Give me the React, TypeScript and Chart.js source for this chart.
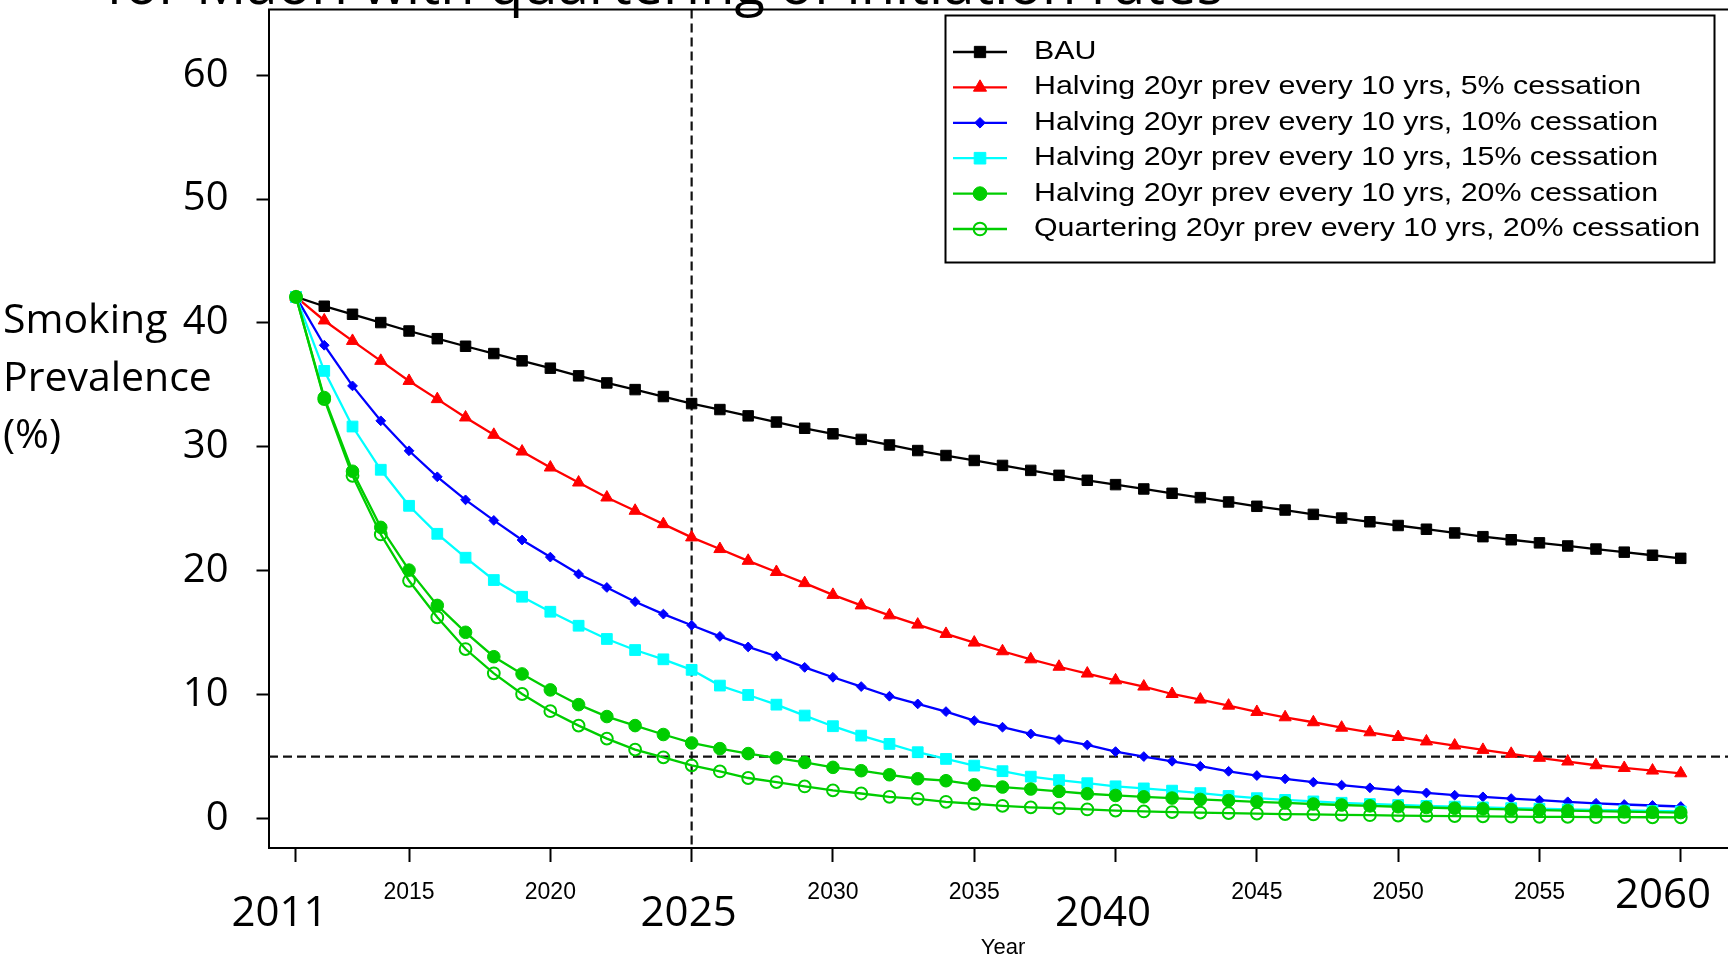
import { useEffect, useRef } from 'react';
import { Chart, registerables } from 'chart.js';

Chart.register(...registerables);

// ---------------- data ----------------
const years = [
  2011, 2012, 2013, 2014, 2015, 2016, 2017, 2018, 2019, 2020,
  2021, 2022, 2023, 2024, 2025, 2026, 2027, 2028, 2029, 2030,
  2031, 2032, 2033, 2034, 2035, 2036, 2037, 2038, 2039, 2040,
  2041, 2042, 2043, 2044, 2045, 2046, 2047, 2048, 2049, 2050,
  2051, 2052, 2053, 2054, 2055, 2056, 2057, 2058, 2059, 2060,
];

const bau = [
  42.1, 41.35, 40.7, 40.03, 39.35, 38.73, 38.12, 37.53, 36.94, 36.35,
  35.73, 35.16, 34.62, 34.06, 33.49, 33.01, 32.5, 32.0, 31.5, 31.05,
  30.6, 30.15, 29.7, 29.3, 28.9, 28.5, 28.1, 27.7, 27.3, 26.95,
  26.6, 26.25, 25.9, 25.55, 25.2, 24.9, 24.55, 24.25, 23.95, 23.65,
  23.35, 23.05, 22.75, 22.5, 22.25, 22.0, 21.75, 21.5, 21.25, 21.0,
];

const halving5 = [
  42.1, 40.2, 38.55, 36.94, 35.32, 33.85, 32.37, 30.97, 29.62, 28.33,
  27.12, 25.91, 24.84, 23.76, 22.69, 21.75, 20.8, 19.9, 19.0, 18.05,
  17.2, 16.4, 15.65, 14.9, 14.2, 13.5, 12.85, 12.25, 11.7, 11.15,
  10.65, 10.05, 9.6, 9.11, 8.6, 8.17, 7.77, 7.33, 6.96, 6.58,
  6.22, 5.89, 5.54, 5.22, 4.9, 4.6, 4.3, 4.08, 3.87, 3.65,
];

const halving10 = [
  42.1, 38.2, 34.92, 32.1, 29.68, 27.58, 25.72, 24.06, 22.48, 21.1,
  19.73, 18.65, 17.5, 16.5, 15.6, 14.7, 13.85, 13.1, 12.2, 11.4,
  10.65, 9.87, 9.25, 8.63, 7.9, 7.37, 6.83, 6.37, 5.94, 5.4,
  5.0, 4.62, 4.22, 3.81, 3.47, 3.2, 2.93, 2.69, 2.48, 2.26,
  2.07, 1.88, 1.75, 1.61, 1.48, 1.35, 1.23, 1.13, 1.05, 0.97,
];

const halving15 = [
  42.1, 36.13, 31.64, 28.15, 25.24, 22.98, 21.05, 19.25, 17.9, 16.69,
  15.56, 14.49, 13.6, 12.85, 12.0, 10.73, 9.97, 9.19, 8.31, 7.45,
  6.69, 6.02, 5.35, 4.81, 4.27, 3.82, 3.38, 3.1, 2.85, 2.6,
  2.43, 2.25, 2.05, 1.82, 1.64, 1.5, 1.38, 1.27, 1.17, 1.09,
  1.02, 0.96, 0.9, 0.84, 0.79, 0.74, 0.69, 0.65, 0.61, 0.57,
];

const halving20 = [
  42.1, 33.98, 28.03, 23.5, 20.05, 17.2, 15.03, 13.06, 11.67, 10.38,
  9.19, 8.23, 7.5, 6.78, 6.1, 5.64, 5.24, 4.9, 4.53, 4.13,
  3.86, 3.53, 3.21, 3.05, 2.73, 2.54, 2.38, 2.19, 2.0, 1.86,
  1.75, 1.65, 1.54, 1.45, 1.35, 1.26, 1.17, 1.09, 1.02, 0.95,
  0.89, 0.83, 0.78, 0.73, 0.68, 0.63, 0.59, 0.55, 0.51, 0.48,
];

const quartering20 = [
  42.1, 33.85, 27.66, 22.93, 19.19, 16.24, 13.68, 11.72, 10.05, 8.66,
  7.5, 6.45, 5.56, 4.94, 4.29, 3.8, 3.27, 2.94, 2.59, 2.27,
  2.02, 1.75, 1.59, 1.35, 1.19, 1.02, 0.9, 0.83, 0.73, 0.64,
  0.57, 0.52, 0.48, 0.44, 0.4, 0.36, 0.33, 0.3, 0.27, 0.24,
  0.22, 0.2, 0.18, 0.16, 0.14, 0.13, 0.12, 0.11, 0.1, 0.09,
];

const legendLabels = [
  'BAU',
  'Halving 20yr prev every 10 yrs, 5% cessation',
  'Halving 20yr prev every 10 yrs, 10% cessation',
  'Halving 20yr prev every 10 yrs, 15% cessation',
  'Halving 20yr prev every 10 yrs, 20% cessation',
  'Quartering 20yr prev every 10 yrs, 20% cessation',
];

const yTickValues = [0, 10, 20, 30, 40, 50, 60];
const xTickValues = [2011, 2015, 2020, 2025, 2030, 2035, 2040, 2045, 2050, 2055, 2060];
const bigXLabels = [2011, 2025, 2040, 2060];
const yTitleLines = ['Smoking', 'Prevalence', '(%)'];
const titleText = 'for Māori with quartering of initiation rates';
const xTitleText = 'Year';
const refYear = 2025;
const refPrevalence = 5;

// ---------------- styles ----------------
const GREEN = '#00CD00';
const seriesStyles = [
  { values: bau, color: '#000000', style: 'rect', radius: 7.4, fill: true },
  { values: halving5, color: '#FF0000', style: 'triangle', radius: 7, fill: true },
  { values: halving10, color: '#0000FF', style: 'rectRot', radius: 4.9, fill: true },
  { values: halving15, color: '#00FFFF', style: 'rect', radius: 7.6, fill: true },
  { values: halving20, color: GREEN, style: 'circle', radius: 6.3, fill: true },
  { values: quartering20, color: GREEN, style: 'circle', radius: 5.9, fill: false },
];

const OPEN = '"Open Sans", "Noto Sans", sans-serif';
const LIB = '"Liberation Sans", Arial, sans-serif';

function drawMarker(ctx: CanvasRenderingContext2D, style: string, x: number, y: number, r: number, color: string, fill: boolean) {
  ctx.save();
  ctx.beginPath();
  if (style === 'rect') {
    const s = Math.SQRT1_2 * r;
    ctx.rect(x - s, y - s, 2 * s, 2 * s);
  } else if (style === 'triangle') {
    for (let k = 0; k < 3; k++) {
      const a = (k * 2 * Math.PI) / 3;
      const px = x + Math.sin(a) * r;
      const py = y - Math.cos(a) * r;
      if (k === 0) ctx.moveTo(px, py); else ctx.lineTo(px, py);
    }
    ctx.closePath();
  } else if (style === 'rectRot') {
    ctx.moveTo(x - r, y);
    ctx.lineTo(x, y - r);
    ctx.lineTo(x + r, y);
    ctx.lineTo(x, y + r);
    ctx.closePath();
  } else {
    ctx.arc(x, y, r, 0, Math.PI * 2);
  }
  if (fill) {
    ctx.fillStyle = color;
    ctx.fill();
    ctx.lineWidth = 1;
  } else {
    ctx.lineWidth = 2;
  }
  ctx.strokeStyle = color;
  ctx.stroke();
  ctx.restore();
}

const overlayPlugin = {
  id: 'overlay',
  beforeDatasetsDraw(chart: any) {
    const { ctx, chartArea, scales } = chart;
    const xs = scales.x;
    const ys = scales.y;
    ctx.save();
    ctx.strokeStyle = '#111';
    ctx.lineWidth = 2.2;
    ctx.setLineDash([9, 5]);
    const yp = ys.getPixelForValue(refPrevalence);
    ctx.beginPath();
    ctx.moveTo(chartArea.left, yp);
    ctx.lineTo(chartArea.right, yp);
    ctx.stroke();
    const xp = xs.getPixelForValue(refYear);
    ctx.beginPath();
    ctx.moveTo(xp, chartArea.top);
    ctx.lineTo(xp, chartArea.bottom);
    ctx.stroke();
    ctx.restore();
  },
  afterDraw(chart: any) {
    const { ctx, chartArea, scales } = chart;
    const xs = scales.x;
    ctx.save();

    // top border of the plot box
    ctx.strokeStyle = '#000';
    ctx.lineWidth = 2;
    ctx.beginPath();
    ctx.moveTo(chartArea.left - 1, chartArea.top);
    ctx.lineTo(chartArea.right + 1, chartArea.top);
    ctx.stroke();

    // title (cut off at top)
    ctx.fillStyle = '#000';
    ctx.font = `56px ${OPEN}`;
    ctx.textAlign = 'left';
    ctx.textBaseline = 'alphabetic';
    ctx.fillText(titleText, 106, 3.5);

    // y-axis title lines
    ctx.font = `41px ${OPEN}`;
    const yBase = [333, 391, 448];
    yTitleLines.forEach((t, i) => ctx.fillText(t, 3, yBase[i]));

    // big x labels
    ctx.font = `42px ${OPEN}`;
    ctx.textAlign = 'center';
    const bigOffsets: Record<number, [number, number]> = {
      2011: [-16.5, 926], 2025: [-3, 926], 2040: [-12.5, 926], 2060: [-17.7, 908],
    };
    bigXLabels.forEach((v) => {
      const [dx, by] = bigOffsets[v];
      ctx.fillText(String(v), xs.getPixelForValue(v) + dx, by);
    });

    // x title
    ctx.font = `22px ${LIB}`;
    ctx.fillText(xTitleText, 1003, 954);

    // legend
    const L = { x: 945.5, y: 15.5, w: 769, h: 247, l0: 953, l1: 1007, mx: 980, tx: 1034, row0: 52, gap: 35.4 };
    ctx.fillStyle = '#fff';
    ctx.fillRect(L.x, L.y, L.w, L.h);
    ctx.strokeStyle = '#000';
    ctx.lineWidth = 2;
    ctx.strokeRect(L.x, L.y, L.w, L.h);
    seriesStyles.forEach((s, i) => {
      const ry = L.row0 + i * L.gap;
      ctx.strokeStyle = s.color;
      ctx.lineWidth = 2.3;
      ctx.beginPath();
      ctx.moveTo(L.l0, ry);
      ctx.lineTo(L.l1, ry);
      ctx.stroke();
      drawMarker(ctx, s.style, L.mx, ry, s.radius * 1.08, s.color, s.fill);
      ctx.save();
      ctx.translate(L.tx, ry);
      ctx.scale(1.19, 1);
      ctx.fillStyle = '#000';
      ctx.font = `25.5px ${LIB}`;
      ctx.textAlign = 'left';
      ctx.textBaseline = 'middle';
      ctx.fillText(legendLabels[i], 0, 0);
      ctx.restore();
    });

    ctx.restore();
  },
};

export default function App() {
  const ref = useRef<HTMLCanvasElement>(null);

  useEffect(() => {
    const canvas = ref.current;
    if (!canvas) return;
    const datasets = seriesStyles.map((s, i) => ({
      label: legendLabels[i],
      data: years.map((yr, k) => ({ x: yr, y: s.values[k] })),
      borderColor: s.color,
      backgroundColor: s.fill ? s.color : 'rgba(0,0,0,0)',
      borderWidth: 2.3,
      pointStyle: s.style,
      pointRadius: s.radius,
      pointBackgroundColor: s.fill ? s.color : 'rgba(0,0,0,0)',
      pointBorderColor: s.color,
      pointBorderWidth: s.fill ? 1 : 2,
      tension: 0,
      fill: false,
      order: seriesStyles.length - i,
    }));

    const chart = new Chart(canvas, {
      type: 'line',
      data: { datasets },
      options: {
        animation: false,
        responsive: false,
        devicePixelRatio: 1,
        events: [],
        layout: { padding: { left: 0, right: 10, top: 9.5, bottom: 0 } },
        plugins: { legend: { display: false }, title: { display: false }, tooltip: { enabled: false } },
        scales: {
          x: {
            type: 'linear',
            min: 2010.045,
            max: 2062.45,
            afterBuildTicks: (s: any) => { s.ticks = xTickValues.map((v) => ({ value: v })); },
            afterFit: (s: any) => {
              s.height = 109;
              s.paddingLeft = 0; s.paddingRight = 0; s.paddingTop = 0; s.paddingBottom = 0;
            },
            grid: { drawOnChartArea: false, drawTicks: true, tickLength: 14, tickColor: '#000', tickWidth: 2 },
            border: { display: true, color: '#000', width: 2 },
            ticks: {
              autoSkip: false,
              maxRotation: 0,
              minRotation: 0,
              padding: 17,
              color: '#000',
              font: { family: LIB, size: 23 },
              callback: (v: any) => (bigXLabels.includes(Number(v)) ? '' : String(v)),
            },
          },
          y: {
            type: 'linear',
            min: -2.38,
            max: 65.3,
            afterBuildTicks: (s: any) => { s.ticks = yTickValues.map((v) => ({ value: v })); },
            afterFit: (s: any) => {
              s.width = 269;
              s.paddingLeft = 0; s.paddingRight = 0; s.paddingTop = 0; s.paddingBottom = 0;
            },
            grid: { drawOnChartArea: false, drawTicks: true, tickLength: 12.5, tickColor: '#000', tickWidth: 2 },
            border: { display: true, color: '#000', width: 2 },
            ticks: {
              padding: 28,
              color: '#000',
              font: { family: OPEN, size: 40 },
              callback: (v: any) => String(v),
            },
          },
        },
      },
      plugins: [overlayPlugin],
    } as any);

    return () => chart.destroy();
  }, []);

  return (
    <div style={{ position: 'fixed', left: 0, top: 0, width: 1728, height: 957, overflow: 'hidden', background: '#fff' }}>
      <canvas ref={ref} width={1760} height={957} style={{ display: 'block', width: 1760, height: 957 }} />
    </div>
  );
}
